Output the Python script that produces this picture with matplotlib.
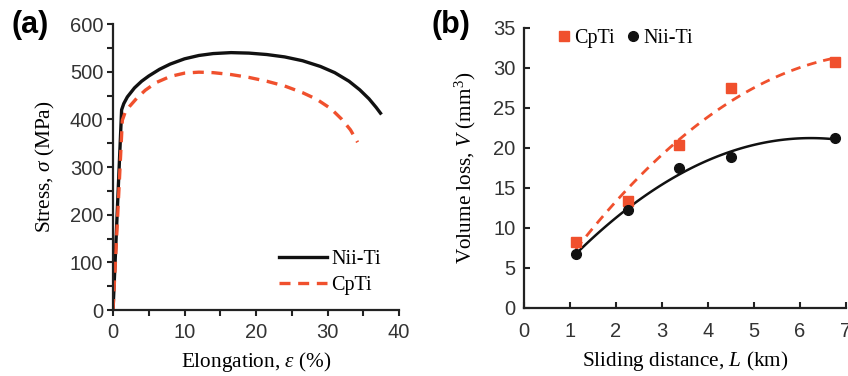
import numpy as np
import matplotlib.pyplot as plt

# (a) stress-strain curves
nii_strain = [0, 1.2, 1.5, 2.0, 3.0, 4.0, 5.0, 6.5, 8.0, 10.0, 12.0, 14.0, 16.5, 19.0, 21.5, 24.0, 26.5, 29.0, 31.0, 33.0, 34.5, 35.8, 36.8, 37.4]
nii_stress = [0, 420, 433, 447, 466, 480, 491, 505, 516, 527, 534, 538, 540, 539, 536, 531, 523, 511, 498, 480, 462, 443, 425, 413]
cp_strain = [0, 1.3, 1.7, 2.3, 3.3, 4.5, 6.0, 8.0, 10.0, 12.0, 14.0, 16.5, 19.0, 21.5, 24.0, 26.5, 28.5, 30.5, 32.0, 33.2, 34.2]
cp_stress = [0, 398, 415, 427, 444, 461, 477, 490, 497, 499, 498, 494, 488, 480, 470, 456, 442, 422, 400, 378, 352]

# (b) wear volume loss
distance = [1.125, 2.25, 3.375, 4.5, 6.75]
vol_cp = [8.25, 13.4, 20.4, 27.5, 30.8]
vol_nii = [6.7, 12.2, 17.5, 18.9, 21.2]

red = '#f0502d'
serif = 'Liberation Serif'
sans = 'Liberation Sans'
plt.rcParams['font.family'] = sans
plt.rcParams['mathtext.fontset'] = 'custom'
plt.rcParams['mathtext.it'] = 'Liberation Serif:italic'
plt.rcParams['mathtext.rm'] = 'Liberation Serif'

fig = plt.figure(figsize=(8.48, 3.76), dpi=100)
ax1 = fig.add_axes([0.1333, 0.1755, 0.3373, 0.7606])
ax2 = fig.add_axes([0.618, 0.181, 0.3797, 0.7447])

for ax in (ax1, ax2):
    for s in ('top', 'right'):
        ax.spines[s].set_visible(False)
    for s in ('left', 'bottom'):
        ax.spines[s].set_linewidth(1.6)
        ax.spines[s].set_color('#222222')
    ax.tick_params(labelsize=14.5, width=1.5, length=4, colors='#222222', labelcolor='#333333')

# panel a
ax1.plot(nii_strain, nii_stress, color='#111111', lw=2.4, label='Nii-Ti')
ax1.plot(cp_strain, cp_stress, color=red, lw=2.4, ls=(0, (3.3, 2.3)), label='CpTi')
ax1.set_xlim(0, 40)
ax1.set_ylim(0, 600)
ax1.set_xticks(np.arange(0, 41, 5))
ax1.set_xticklabels(['0', '', '10', '', '20', '', '30', '', '40'])
ax1.set_yticks(np.arange(0, 601, 50))
ax1.set_yticklabels([str(v) if v % 100 == 0 else '' for v in range(0, 601, 50)])
ax1.tick_params(axis='y', direction='out', pad=3)
ax1.tick_params(axis='x', direction='out', pad=5)
ax1.set_xlabel(r'Elongation, $\it{\varepsilon}$ (%)', fontsize=15.3, family=serif, labelpad=6)
ax1.set_ylabel(r'Stress, $\it{\sigma}$ (MPa)', fontsize=15.3, family=serif, labelpad=9)
ax1.legend(loc='lower right', bbox_to_anchor=(1.0, -0.01), frameon=False,
           prop={'family': serif, 'size': 14.5}, handlelength=2.4, handletextpad=0.2, labelspacing=0.35)

# panel b
x_fit = np.linspace(distance[0], distance[-1], 100)
ax2.plot(x_fit, np.polyval(np.polyfit(distance, vol_cp, 2), x_fit), color=red, lw=2, ls=(0, (3.5, 2.5)))
ax2.plot(x_fit, np.polyval(np.polyfit(distance, vol_nii, 2), x_fit), color='#111111', lw=1.8)
ax2.plot(distance, vol_cp, 's', color=red, ms=7, label='CpTi')
ax2.plot(distance, vol_nii, 'o', color='#111111', ms=7, label='Nii-Ti')
ax2.set_xlim(0, 7)
ax2.set_ylim(0, 35)
ax2.set_xticks(range(0, 8))
ax2.set_yticks(range(0, 36, 5))
ax2.tick_params(axis='y', direction='in', pad=6)
ax2.tick_params(axis='x', direction='in', pad=10)
ax2.set_xlabel(r'Sliding distance, $\it{L}$ (km)', fontsize=15.3, family=serif, labelpad=6)
ax2.set_ylabel(r'Volume loss, $\it{V}$ (mm$^3$)', fontsize=15.3, family=serif, labelpad=11)
ax2.legend(loc='upper left', bbox_to_anchor=(0.05, 1.06), ncol=2, frameon=False,
           prop={'family': serif, 'size': 14.5}, handlelength=0.6, handletextpad=0.2, columnspacing=0.6)

fig.text(0.014, 0.912, '(a)', fontsize=22, fontweight='bold', family=sans)
fig.text(0.509, 0.912, '(b)', fontsize=22, fontweight='bold', family=sans)

fig.savefig('out.png', dpi=100)
